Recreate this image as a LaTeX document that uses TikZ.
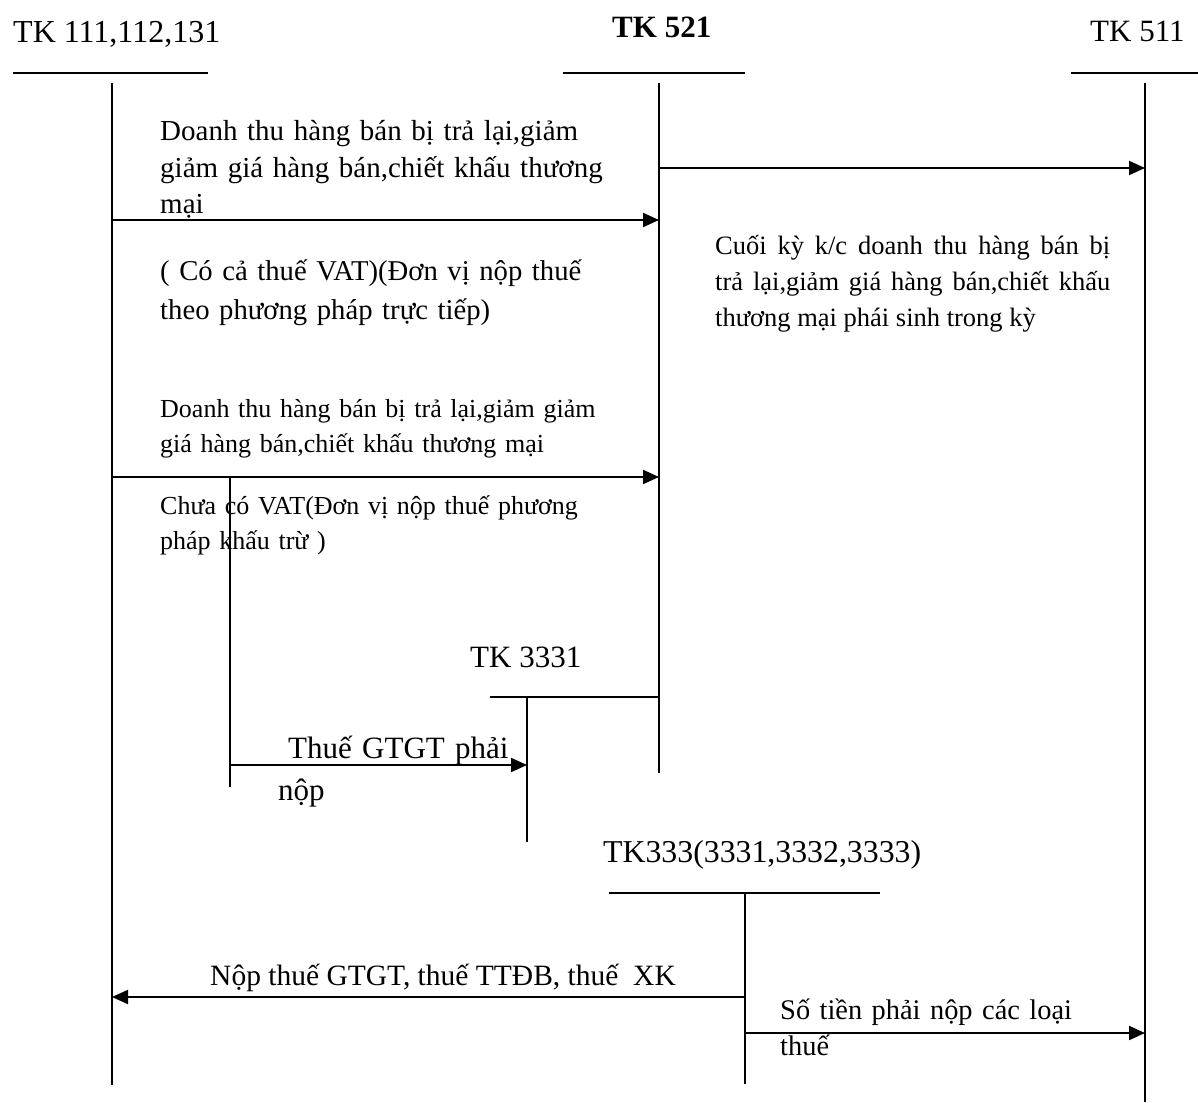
\documentclass[tikz,border=0pt]{standalone}
\usepackage{fontspec}
\setmainfont{Liberation Serif}
\usetikzlibrary{arrows.meta}
\begin{document}
\begin{tikzpicture}[x=1pt,y=-1pt,
  acct/.style={line width=1.4pt},
  hdr/.style={line width=1.8pt},
  flow/.style={line width=2pt,-{Triangle[length=16pt,width=14pt]}},
  lbl/.style={anchor=base west,inner sep=0pt,align=left},
  big/.style={font=\fontsize{31}{37}\selectfont},
]
\useasboundingbox (0,0) rectangle (1198,1102);

% ---- account titles ----
\node[lbl,font=\fontsize{32}{37}\selectfont] (t111) at (13,43) {TK 111,112,131};
\node[lbl,font=\fontsize{31}{37}\selectfont\bfseries] (t521) at (612,38) {TK 521};
\node[lbl,big] (t511) at (1090,42) {TK 511};
\node[lbl,big] (t3331) at (470,667) {TK 3331};
\node[lbl,font=\fontsize{31.8}{37}\selectfont] (t333) at (603,862) {TK333(3331,3332,3333)};

% ---- coordinates ----
\coordinate (h111a) at (13,73);   \coordinate (h111b) at (208,73);
\coordinate (h521a) at (563,73);  \coordinate (h521b) at (745,73);
\coordinate (h511a) at (1071,73); \coordinate (h511b) at (1198,73);
\coordinate (v111a) at (112,83);  \coordinate (v111b) at (112,1085);
\coordinate (v521a) at (659,83);  \coordinate (v521b) at (659,773);
\coordinate (v511a) at (1145,83); \coordinate (v511b) at (1145,1102);
\coordinate (h3331a) at (490,697); \coordinate (h3331b) at (659,697);
\coordinate (v3331a) at (527,697); \coordinate (v3331b) at (527,842);
\coordinate (h333a) at (609,893); \coordinate (h333b) at (880,893);
\coordinate (v333a) at (745,893); \coordinate (v333b) at (745,1084);
\coordinate (vxa) at (230,477);   \coordinate (vxb) at (230,787);

% ---- T-account lines ----
\draw[hdr] (h111a) -- (h111b);
\draw[hdr] (h521a) -- (h521b);
\draw[hdr] (h511a) -- (h511b);
\draw[hdr] (h3331a) -- (h3331b);
\draw[hdr] (h333a) -- (h333b);
\draw[acct] (v111a) -- (v111b);
\draw[acct] (v521a) -- (v521b);
\draw[acct] (v511a) -- (v511b);
\draw[acct] (v3331a) -- (v3331b);
\draw[acct] (v333a) -- (v333b);
\draw[acct] (vxa) -- (vxb);

% ---- flows ----
\coordinate (f1a) at (112,220); \coordinate (f1b) at (659,220);
\coordinate (f2a) at (659,168); \coordinate (f2b) at (1145,168);
\coordinate (f3a) at (112,477); \coordinate (f3b) at (659,477);
\coordinate (f4a) at (230,765); \coordinate (f4b) at (527,765);
\coordinate (f5a) at (745,997); \coordinate (f5b) at (112,997);
\coordinate (f6a) at (745,1033); \coordinate (f6b) at (1145,1033);
\draw[flow] (f1a) -- (f1b);
\draw[flow] (f2a) -- (f2b);
\draw[flow] (f3a) -- (f3b);
\draw[flow] (f4a) -- (f4b);
\draw[flow] (f5a) -- (f5b);
\draw[flow] (f6a) -- (f6b);

% ---- labels ----
\node[lbl,text width=480pt,font=\fontsize{29}{36.5}\selectfont] (l1) at (160,141)
  {Doanh thu hàng bán bị trả lại,giảm\\giảm giá hàng bán,chiết khấu thương\\mại};
\node[lbl,text width=480pt,font=\fontsize{28.7}{39}\selectfont] (l2) at (160,280)
  {( Có cả thuế VAT)(Đơn vị nộp thuế\\theo phương pháp trực tiếp)};
\node[lbl,text width=480pt,font=\fontsize{26}{35}\selectfont] (l3) at (160,417)
  {Doanh thu hàng bán bị trả lại,giảm giảm\\giá hàng bán,chiết khấu thương mại};
\node[lbl,text width=480pt,font=\fontsize{26}{35}\selectfont] (l4) at (160,514)
  {Chưa có VAT(Đơn vị nộp thuế phương\\pháp khấu trừ )};
\node[lbl,text width=395pt,align=justify,font=\fontsize{26.5}{36}\selectfont] (l5) at (715,254)
  {Cuối kỳ k/c doanh thu hàng bán bị\linebreak trả lại,giảm giá hàng bán,chiết khấu\linebreak thương mại phái sinh trong kỳ};
\node[lbl,text width=300pt,font=\fontsize{31}{42}\selectfont] (l6) at (278,758)
  {\hspace*{10pt}Thuế GTGT phải\\nộp};
\node[lbl,font=\fontsize{29.5}{36}\selectfont] (l7) at (210,985)
  {Nộp thuế GTGT, thuế TTĐB, thuế\ \ XK};
\node[lbl,text width=380pt,font=\fontsize{28.4}{36}\selectfont] (l8) at (780,1019)
  {Số tiền phải nộp các loại\\thuế};
\end{tikzpicture}
\end{document}
